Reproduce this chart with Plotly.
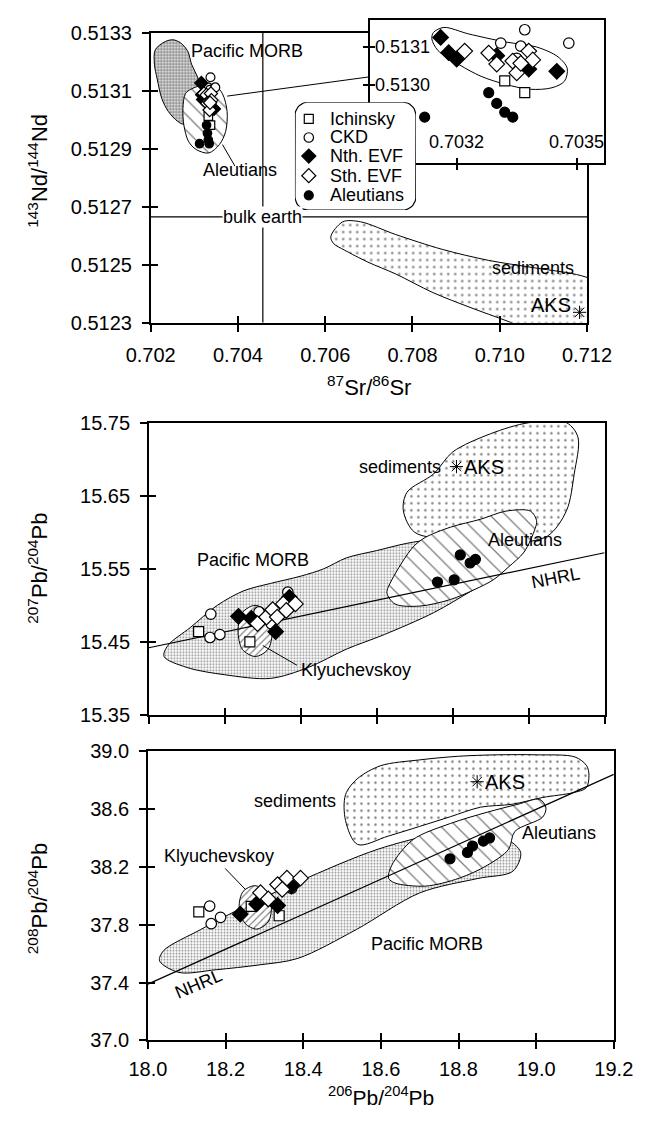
import numpy as np
import plotly.graph_objects as go

W, H = 661, 1122
FONT = "Liberation Sans, Arial, Helvetica, sans-serif"

# ---------------- Sr-Nd isotope data (main panel + inset) ----------------
ich_sr = [0.70332, 0.70337]
ich_nd = [0.513012, 0.512981]
ckd_sr = [0.70337, 0.70331, 0.70336, 0.70348, 0.70335, 0.70336]
ckd_nd = [0.513146, 0.513111, 0.513103, 0.513111, 0.513071, 0.513045]
nth_sr = [0.70316, 0.70318, 0.70320, 0.70330, 0.70338, 0.70345]
nth_nd = [0.513126, 0.513086, 0.513069, 0.513078, 0.513043, 0.513037]
sth_sr = [0.70322, 0.70328, 0.70330, 0.70334, 0.70338, 0.70339, 0.70335, 0.70336]
sth_nd = [0.513090, 0.513085, 0.513056, 0.513064, 0.513090, 0.513067, 0.513033, 0.513058]
ale_sr = [0.70328, 0.70330, 0.70332, 0.70334, 0.70312]
ale_nd = [0.512981, 0.512953, 0.512930, 0.512917, 0.512917]

# ---------------- Pb isotope data ----------------
ich_206m = [18.131, 18.266]
ich_207 = [15.464, 15.450]
ckd_206m = [18.163, 18.161, 18.187, 18.366, 18.290, 18.322]
ckd_207 = [15.488, 15.456, 15.460, 15.518, 15.491, 15.475]
nth_206m = [18.236, 18.270, 18.334, 18.370]
nth_207 = [15.485, 15.482, 15.464, 15.511]
sth_206m = [18.286, 18.310, 18.326, 18.338, 18.354, 18.386, 18.362]
sth_207 = [15.475, 15.484, 15.494, 15.484, 15.502, 15.502, 15.493]
ale_206m = [18.820, 18.846, 18.860, 18.760, 18.804]
ale_207 = [15.569, 15.558, 15.563, 15.532, 15.535]

ich_206b = [18.131, 18.338, 18.266]
ich_208 = [37.889, 37.862, 37.927]
ckd_206b = [18.159, 18.163, 18.187, 18.370]
ckd_208 = [37.929, 37.807, 37.851, 38.051]
nth_206b = [18.238, 18.280, 18.334, 18.370]
nth_208 = [37.873, 37.944, 37.933, 38.067]
sth_206b = [18.290, 18.310, 18.334, 18.358, 18.393, 18.346]
sth_208 = [38.022, 37.978, 38.078, 38.122, 38.122, 38.044]
ale_206b = [18.778, 18.823, 18.836, 18.864, 18.880]
ale_208 = [38.256, 38.300, 38.344, 38.378, 38.400]

# AKS sediment composition
aks_sr, aks_nd = [0.71183], [0.512336]
aks_206m, aks_207 = [18.81], [15.69]
aks_206b, aks_208 = [18.848], [38.789]

# Northern Hemisphere Reference Line end points
nhrl_206 = [18.0, 19.2]
nhrl_207 = [15.442, 15.572]
nhrl_208 = [37.389, 38.840]

# Bulk earth reference values
bulk_sr = 0.70457
bulk_nd = 0.512665

# ---------------- Field outlines ----------------
morb_sr = [0.702334, 0.702106, 0.702085, 0.702149, 0.702255, 0.702404, 0.702617, 0.702766,
           0.702936, 0.703043, 0.703149, 0.703064, 0.702936, 0.702851, 0.702681, 0.702511]
morb_nd = [0.513269, 0.513241, 0.513191, 0.513140, 0.513072, 0.513028, 0.512994, 0.512984,
           0.513004, 0.513055, 0.513106, 0.513150, 0.513191, 0.513235, 0.513265, 0.513275]
aleF_sr = [0.702794, 0.702936, 0.703291, 0.703468, 0.703645, 0.703751, 0.703717, 0.703574,
           0.703326, 0.703043, 0.702866, 0.702760, 0.702738]
aleF_nd = [0.513089, 0.513106, 0.513123, 0.513119, 0.513089, 0.513028, 0.512959, 0.512914,
           0.512885, 0.512897, 0.512925, 0.512981, 0.513038]
sed_sr = [0.706128, 0.706404, 0.706809, 0.707617, 0.708681, 0.709745, 0.710809, 0.711872,
          0.712511, 0.712723, 0.712723, 0.711021, 0.710170, 0.709319, 0.708468, 0.707617,
          0.706979, 0.706447, 0.706191]
sed_nd = [0.512597, 0.512648, 0.512648, 0.512604, 0.512553, 0.512515, 0.512489, 0.512462,
          0.512421, 0.512360, 0.512258, 0.512258, 0.512306, 0.512353, 0.512404, 0.512468,
          0.512509, 0.512550, 0.512573]
evf_sr = [0.703142, 0.703168, 0.703230, 0.703322, 0.703399, 0.703453, 0.703476, 0.703469,
          0.703438, 0.703384, 0.703322, 0.703261, 0.703207, 0.703153, 0.703138]
evf_nd = [0.513139, 0.513152, 0.513135, 0.513114, 0.513101, 0.513075, 0.513045, 0.513011,
          0.512994, 0.512990, 0.513003, 0.513024, 0.513054, 0.513092, 0.513122]

morbM_206 = [18.05, 18.11, 18.18, 18.25, 18.32, 18.40, 18.46, 18.52, 18.60, 18.68, 18.75, 18.85,
             18.93, 18.96, 18.93, 18.85, 18.75, 18.62, 18.52, 18.42, 18.32, 18.20, 18.10, 18.04]
morbM_207 = [15.445, 15.47, 15.50, 15.52, 15.53, 15.54, 15.55, 15.565, 15.575, 15.585, 15.59, 15.59,
             15.585, 15.565, 15.545, 15.52, 15.49, 15.46, 15.44, 15.415, 15.40, 15.405, 15.415, 15.43]
klyM_206 = [18.325, 18.314, 18.28, 18.246, 18.235, 18.246, 18.28, 18.314]
klyM_207 = [15.465, 15.49, 15.50, 15.49, 15.465, 15.44, 15.43, 15.44]
aleM_206 = [18.627, 18.640, 18.696, 18.728, 18.794, 18.874, 18.940, 19.005, 19.021, 19.017,
            18.988, 18.948, 18.907, 18.859, 18.794, 18.713, 18.648]
aleM_207 = [15.517, 15.535, 15.580, 15.593, 15.607, 15.618, 15.629, 15.629, 15.616, 15.605,
            15.573, 15.553, 15.535, 15.522, 15.508, 15.499, 15.502]
sedM_206 = [18.67, 18.70, 18.80, 18.95, 19.05, 19.10, 19.12, 19.13, 19.10, 19.00, 18.90, 18.80,
            18.75, 18.68]
sedM_207 = [15.63, 15.60, 15.59, 15.585, 15.595, 15.63, 15.68, 15.73, 15.75, 15.75, 15.735, 15.71,
            15.68, 15.655]

morbB_206 = [18.04, 18.136, 18.23, 18.39, 18.59, 18.75, 18.85, 18.92, 18.96, 18.94, 18.85, 18.70,
             18.537, 18.386, 18.286, 18.176, 18.08, 18.03]
morbB_208 = [37.62, 37.767, 37.90, 38.10, 38.32, 38.43, 38.45, 38.40, 38.30, 38.17, 38.12, 38.02,
             37.767, 37.567, 37.522, 37.489, 37.47, 37.55]
klyB_206 = [18.318, 18.305, 18.275, 18.245, 18.235, 18.25, 18.28, 18.31]
klyB_208 = [37.93, 38.03, 38.07, 38.03, 37.92, 37.81, 37.77, 37.82]
aleB_206 = [18.620, 18.628, 18.683, 18.779, 18.874, 18.953, 19.009, 19.025, 19.017, 18.945,
            18.929, 18.874, 18.802, 18.715, 18.636]
aleB_208 = [38.122, 38.211, 38.389, 38.500, 38.578, 38.633, 38.667, 38.611, 38.545, 38.445,
            38.322, 38.211, 38.122, 38.067, 38.089]
sedB_206 = [18.54, 18.619, 18.70, 18.779, 18.857, 18.938, 19.017, 19.095, 19.129, 19.136, 19.13,
            19.10, 19.0, 18.9, 18.8, 18.7, 18.6, 18.54, 18.509, 18.509]
sedB_208 = [38.355, 38.413, 38.48, 38.547, 38.613, 38.633, 38.68, 38.713, 38.747, 38.833, 38.90,
            38.96, 38.975, 38.975, 38.965, 38.94, 38.90, 38.811, 38.70, 38.52]

# ---------------- Axis ranges & ticks ----------------
sr_range = [0.702, 0.712]
nd_range = [0.5123, 0.5133]
ins_sr_range = [0.702983, 0.703567]
ins_nd_range = [0.512797, 0.513172]
pb6_range = [18.0, 19.2]
pb7_range = [15.35, 15.75]
pb8_range = [37.0, 39.0]

sr_ticks = [0.702, 0.704, 0.706, 0.708, 0.710, 0.712]
nd_ticks = [0.5123, 0.5125, 0.5127, 0.5129, 0.5131, 0.5133]
ins_sr_ticks = [0.7032, 0.7035]
ins_nd_ticks = [0.5130, 0.5131]
pb6_ticks = [18.0, 18.2, 18.4, 18.6, 18.8, 19.0, 19.2]
pb7_ticks = [15.35, 15.45, 15.55, 15.65, 15.75]
pb8_ticks = [37.0, 37.4, 37.8, 38.2, 38.6, 39.0]

# panel boxes in pixels: (left, right, top, bottom)
BOX_TOP = (136, 608, 22, 318)
BOX_INSET = (373, 626, 9, 155)
BOX_MID = (134, 627, 420, 718)
BOX_BOT = (133, 637, 755, 1050)
BOX_LEG = (292, 423, 93, 203)


def dom(box):
    l, r, t, b = box
    return [l / W, r / W], [1 - b / H, 1 - t / H]


fig = go.Figure()

SYMS = {
    "Ichinsky": dict(symbol="square", color="white", size=10),
    "CKD": dict(symbol="circle", color="white", size=10.5),
    "Nth. EVF": dict(symbol="diamond", color="black", size=12),
    "Sth. EVF": dict(symbol="diamond", color="white", size=12),
    "Aleutians": dict(symbol="circle", color="black", size=10),
}


def field(x, y, xa, ya, pattern=None, fill=True, lw=1.0):
    xs = list(x) + [x[0]]
    ys = list(y) + [y[0]]
    kw = dict(x=xs, y=ys, xaxis=xa, yaxis=ya, mode="lines", showlegend=False,
              hoverinfo="skip", line=dict(color="black", width=lw, shape="spline", smoothing=0.9))
    if fill:
        kw["fill"] = "toself"
        kw["fillcolor"] = "white"
        if pattern:
            kw["fillpattern"] = pattern
    fig.add_trace(go.Scatter(**kw))


def line(x, y, xa, ya, lw=1.2):
    fig.add_trace(go.Scatter(x=x, y=y, xaxis=xa, yaxis=ya, mode="lines", showlegend=False,
                             hoverinfo="skip", line=dict(color="black", width=lw)))


def points(name, x, y, xa, ya, scale=1.0):
    s = SYMS[name]
    fig.add_trace(go.Scatter(x=x, y=y, xaxis=xa, yaxis=ya, mode="markers", name=name,
                             showlegend=False, hoverinfo="skip",
                             marker=dict(symbol=s["symbol"], color=s["color"], size=s["size"] * scale,
                                         line=dict(color="black", width=1.2))))


def star(x, y, xa, ya):
    fig.add_trace(go.Scatter(x=x, y=y, xaxis=xa, yaxis=ya, mode="markers", showlegend=False,
                             hoverinfo="skip",
                             marker=dict(symbol="asterisk-open", size=11, color="black",
                                         line=dict(color="black", width=1))))


PAT_MORB_DARK = dict(shape=".", fgcolor="black", bgcolor="white", size=3, solidity=0.6)
PAT_MORB = dict(shape=".", fgcolor="#222222", bgcolor="white", size=3, solidity=0.35)
PAT_SED = dict(shape=".", fgcolor="black", bgcolor="white", size=7, solidity=0.1)
PAT_HATCH = dict(shape="\\", fgcolor="black", bgcolor="white", size=11, solidity=0.12)
PAT_FINE = dict(shape="/", fgcolor="black", bgcolor="white", size=5, solidity=0.22)

# ================= Sr-Nd main panel =================
field(morb_sr, morb_nd, "x", "y", PAT_MORB_DARK)
field(aleF_sr, aleF_nd, "x", "y", PAT_HATCH)
field(sed_sr, sed_nd, "x", "y", PAT_SED)
line(sr_range, [bulk_nd, bulk_nd], "x", "y")
line([bulk_sr, bulk_sr], nd_range, "x", "y")
# leader lines
line([0.703930, 0.703645], [0.512840, 0.512914], "x", "y", lw=1)
line([0.703751, 0.707043], [0.513081, 0.513148], "x", "y", lw=1)
for nm, xx, yy in [("Ichinsky", ich_sr, ich_nd), ("CKD", ckd_sr, ckd_nd),
                   ("Nth. EVF", nth_sr, nth_nd), ("Sth. EVF", sth_sr, sth_nd),
                   ("Aleutians", ale_sr, ale_nd)]:
    points(nm, xx, yy, "x", "y", scale=0.85)
star(aks_sr, aks_nd, "x", "y")

# ================= inset =================
fig.add_trace(go.Scatter(x=[ins_sr_range[0], ins_sr_range[1], ins_sr_range[1], ins_sr_range[0]],
                         y=[ins_nd_range[0], ins_nd_range[0], ins_nd_range[1], ins_nd_range[1]],
                         xaxis="x2", yaxis="y2", mode="lines", fill="toself", fillcolor="white",
                         line=dict(width=0, color="white"), showlegend=False, hoverinfo="skip"))
field(evf_sr, evf_nd, "x2", "y2", fill=False)
for nm, xx, yy in [("Ichinsky", ich_sr, ich_nd), ("CKD", ckd_sr, ckd_nd),
                   ("Nth. EVF", nth_sr, nth_nd), ("Sth. EVF", sth_sr, sth_nd),
                   ("Aleutians", ale_sr, ale_nd)]:
    points(nm, xx, yy, "x2", "y2")

# ================= 207Pb/204Pb panel =================
field(morbM_206, morbM_207, "x3", "y3", PAT_MORB)
field(sedM_206, sedM_207, "x3", "y3", PAT_SED)
field(aleM_206, aleM_207, "x3", "y3", PAT_HATCH)
field(klyM_206, klyM_207, "x3", "y3", PAT_FINE)
line(nhrl_206, nhrl_207, "x3", "y3")
line([18.30, 18.39], [15.445, 15.418], "x3", "y3", lw=1)
for nm, xx, yy in [("Ichinsky", ich_206m, ich_207), ("CKD", ckd_206m, ckd_207),
                   ("Nth. EVF", nth_206m, nth_207), ("Sth. EVF", sth_206m, sth_207),
                   ("Aleutians", ale_206m, ale_207)]:
    points(nm, xx, yy, "x3", "y3")
star(aks_206m, aks_207, "x3", "y3")

# ================= 208Pb/204Pb panel =================
field(morbB_206, morbB_208, "x4", "y4", PAT_MORB)
field(sedB_206, sedB_208, "x4", "y4", PAT_SED)
field(aleB_206, aleB_208, "x4", "y4", PAT_HATCH)
field(klyB_206, klyB_208, "x4", "y4", PAT_FINE)
line(nhrl_206, nhrl_208, "x4", "y4")
line([18.199, 18.251], [38.189, 38.044], "x4", "y4", lw=1)
for nm, xx, yy in [("Ichinsky", ich_206b, ich_208), ("CKD", ckd_206b, ckd_208),
                   ("Nth. EVF", nth_206b, nth_208), ("Sth. EVF", sth_206b, sth_208),
                   ("Aleutians", ale_206b, ale_208)]:
    points(nm, xx, yy, "x4", "y4")
star(aks_206b, aks_208, "x4", "y4")

# ================= legend box (own subplot, drawn on top of the inset) =================
leg_names = ["Ichinsky", "CKD", "Nth. EVF", "Sth. EVF", "Aleutians"]
leg_w = BOX_LEG[1] - BOX_LEG[0]
leg_h = BOX_LEG[3] - BOX_LEG[2]
rad = 14
bx, by = [], []
for cx, cy, a0 in [(leg_w - rad, rad, -90), (leg_w - rad, leg_h - rad, 0),
                   (rad, leg_h - rad, 90), (rad, rad, 180)]:
    ang = np.radians(np.linspace(a0, a0 + 90, 10))
    bx += list(cx + rad * np.cos(ang))
    by += list(cy + rad * np.sin(ang))
bx.append(bx[0]); by.append(by[0])
fig.add_trace(go.Scatter(x=bx, y=by, xaxis="x9", yaxis="y9", mode="lines", fill="toself",
                         fillcolor="white", line=dict(color="black", width=1.2),
                         showlegend=False, hoverinfo="skip"))
leg_rows = [17, 36, 55, 75, 95]
for nm, ry in zip(leg_names, leg_rows):
    points(nm, [15], [ry], "x9", "y9", scale=0.9)
    fig.add_annotation(x=36, y=ry, xref="x9", yref="y9", text=nm, showarrow=False,
                       xanchor="left", yanchor="middle", font=dict(size=18, color="black", family=FONT))

# ================= text labels =================
def label(text, x, y, xr, yr, size=18, xanchor="center", yanchor="middle", angle=0, bg=None):
    kw = dict(x=x, y=y, xref=xr, yref=yr, text=text, showarrow=False, xanchor=xanchor,
              yanchor=yanchor, textangle=angle, font=dict(size=size, color="black", family=FONT))
    if bg:
        kw["bgcolor"] = bg
        kw["borderpad"] = 0
    fig.add_annotation(**kw)


label("Pacific MORB", 0.704213, 0.513235, "x", "y")
label("Aleutians", 0.704043, 0.512828, "x", "y")
label("bulk earth", bulk_sr, bulk_nd, "x", "y", bg="white")
label("sediments", 0.710766, 0.512489, "x", "y")
label("AKS", 0.71168, 0.51236, "x", "y", size=20, xanchor="right")

# inset tick labels (drawn inside the inset frame)
for v in ins_nd_ticks:
    label("%.4f" % v, 0.012, v, "x2 domain", "y2", size=18, xanchor="left")
for v in ins_sr_ticks:
    label("%.4f" % v, v, 0.06, "x2", "y2 domain", size=18, yanchor="bottom")

label("sediments", 18.66, 15.69, "x3", "y3")
label("AKS", 18.825, 15.69, "x3", "y3", size=20, xanchor="left")
label("Aleutians", 18.99, 15.589, "x3", "y3")
label("NHRL", 19.07, 15.538, "x3", "y3", angle=-11)
label("Pacific MORB", 18.274, 15.562, "x3", "y3")
label("Klyuchevskoy", 18.395, 15.412, "x3", "y3", xanchor="left")

label("sediments", 18.378, 38.656, "x4", "y4")
label("AKS", 18.862, 38.785, "x4", "y4", size=20, xanchor="left")
label("Aleutians", 19.06, 38.433, "x4", "y4")
label("Klyuchevskoy", 18.183, 38.278, "x4", "y4")
label("Pacific MORB", 18.718, 37.667, "x4", "y4")
label("NHRL", 18.13, 37.39, "x4", "y4", angle=-23)

# axis titles
label("<sup>87</sup>Sr/<sup>86</sup>Sr", 372 / W, 1 - 382 / H, "paper", "paper", size=22)
label("<sup>206</sup>Pb/<sup>204</sup>Pb", 385 / W, 0.0, "paper", "paper", size=21, yanchor="bottom")
label("<sup>143</sup>Nd/<sup>144</sup>Nd", 14 / W, 1 - 163 / H, "paper", "paper", size=22, angle=-90)
label("<sup>207</sup>Pb/<sup>204</sup>Pb", 14 / W, 1 - 568 / H, "paper", "paper", size=22, angle=-90)
label("<sup>208</sup>Pb/<sup>204</sup>Pb", 14 / W, 1 - 905 / H, "paper", "paper", size=22, angle=-90)

# ================= axes =================
TICKFONT = dict(size=20, color="black", family=FONT)


def main_axes(n, box, xr, yr, xt, yt, xlab=True, ylab=True, xfmt=None, yfmt=None):
    xd, yd = dom(box)
    sfx = "" if n == 1 else str(n)
    xa = dict(domain=xd, range=xr, anchor="y" + sfx, showgrid=False, zeroline=False,
              showline=True, mirror=True, linecolor="black", linewidth=1.5,
              ticks="outside", ticklen=7, tickwidth=1.5, tickcolor="black",
              tickvals=xt, ticktext=[xfmt % v for v in xt] if xfmt else None,
              showticklabels=xlab, tickfont=TICKFONT, ticklabelstandoff=6)
    ya = dict(domain=yd, range=yr, anchor="x" + sfx, showgrid=False, zeroline=False,
              showline=True, mirror=True, linecolor="black", linewidth=1.5,
              ticks="outside", ticklen=7, tickwidth=1.5, tickcolor="black",
              tickvals=yt, ticktext=[yfmt % v for v in yt] if yfmt else None,
              showticklabels=ylab, tickfont=TICKFONT, ticklabelstandoff=6)
    return xa, ya


def overlay_axes(n, base, xr, yr, xt, yt, box):
    xd, yd = dom(box)
    sfx = "" if base == 1 else str(base)
    xa = dict(domain=xd, range=xr, overlaying="x" + sfx, anchor="y%d" % n, showgrid=False,
              zeroline=False, showline=False, ticks="inside", ticklen=7, tickwidth=1.5,
              tickcolor="black", tickvals=xt, showticklabels=False, side="bottom")
    ya = dict(domain=yd, range=yr, overlaying="y" + sfx, anchor="x%d" % n, showgrid=False,
              zeroline=False, showline=False, ticks="inside", ticklen=7, tickwidth=1.5,
              tickcolor="black", tickvals=yt, showticklabels=False, side="left")
    fig.add_trace(go.Scatter(x=[xr[0]], y=[yr[0]], xaxis="x%d" % n, yaxis="y%d" % n,
                             mode="markers", marker=dict(opacity=0), showlegend=False,
                             hoverinfo="skip"))
    return xa, ya


lay = {}
lay["xaxis"], lay["yaxis"] = main_axes(1, BOX_TOP, sr_range, nd_range, sr_ticks, nd_ticks,
                                       xfmt="%.3f", yfmt="%.4f")
x2, y2 = main_axes(2, BOX_INSET, ins_sr_range, ins_nd_range, ins_sr_ticks, ins_nd_ticks,
                   xlab=False, ylab=False)
x2.update(ticklen=5)
y2.update(ticklen=5)
lay["xaxis2"], lay["yaxis2"] = x2, y2
lay["xaxis3"], lay["yaxis3"] = main_axes(3, BOX_MID, pb6_range, pb7_range, pb6_ticks, pb7_ticks,
                                         xlab=False, yfmt="%.2f")
x4, y4 = main_axes(4, BOX_BOT, pb6_range, pb8_range, pb6_ticks, pb8_ticks, xfmt="%.1f", yfmt="%.1f")
x4.update(ticklabelstandoff=3)
lay["xaxis4"], lay["yaxis4"] = x4, y4
lay["xaxis5"], lay["yaxis5"] = overlay_axes(5, 1, sr_range, nd_range, sr_ticks, nd_ticks, BOX_TOP)
lay["xaxis6"], lay["yaxis6"] = overlay_axes(6, 2, ins_sr_range, ins_nd_range, ins_sr_ticks,
                                            ins_nd_ticks, BOX_INSET)
lay["xaxis6"].update(ticklen=5)
lay["yaxis6"].update(ticklen=5)
lay["xaxis7"], lay["yaxis7"] = overlay_axes(7, 3, pb6_range, pb7_range, pb6_ticks, pb7_ticks, BOX_MID)
lay["xaxis8"], lay["yaxis8"] = overlay_axes(8, 4, pb6_range, pb8_range, pb6_ticks, pb8_ticks, BOX_BOT)
lx, ly = dom(BOX_LEG)
lay["xaxis9"] = dict(domain=lx, range=[0, leg_w], anchor="y9", visible=False)
lay["yaxis9"] = dict(domain=ly, range=[leg_h, 0], anchor="x9", visible=False)

fig.update_layout(
    width=W, height=H, margin=dict(l=0, r=0, t=0, b=0),
    paper_bgcolor="white", plot_bgcolor="rgba(0,0,0,0)",
    showlegend=False, font=dict(family=FONT, color="black"),
    **lay,
)

fig.write_html("out.html", include_plotlyjs=True, config={"displayModeBar": False})
